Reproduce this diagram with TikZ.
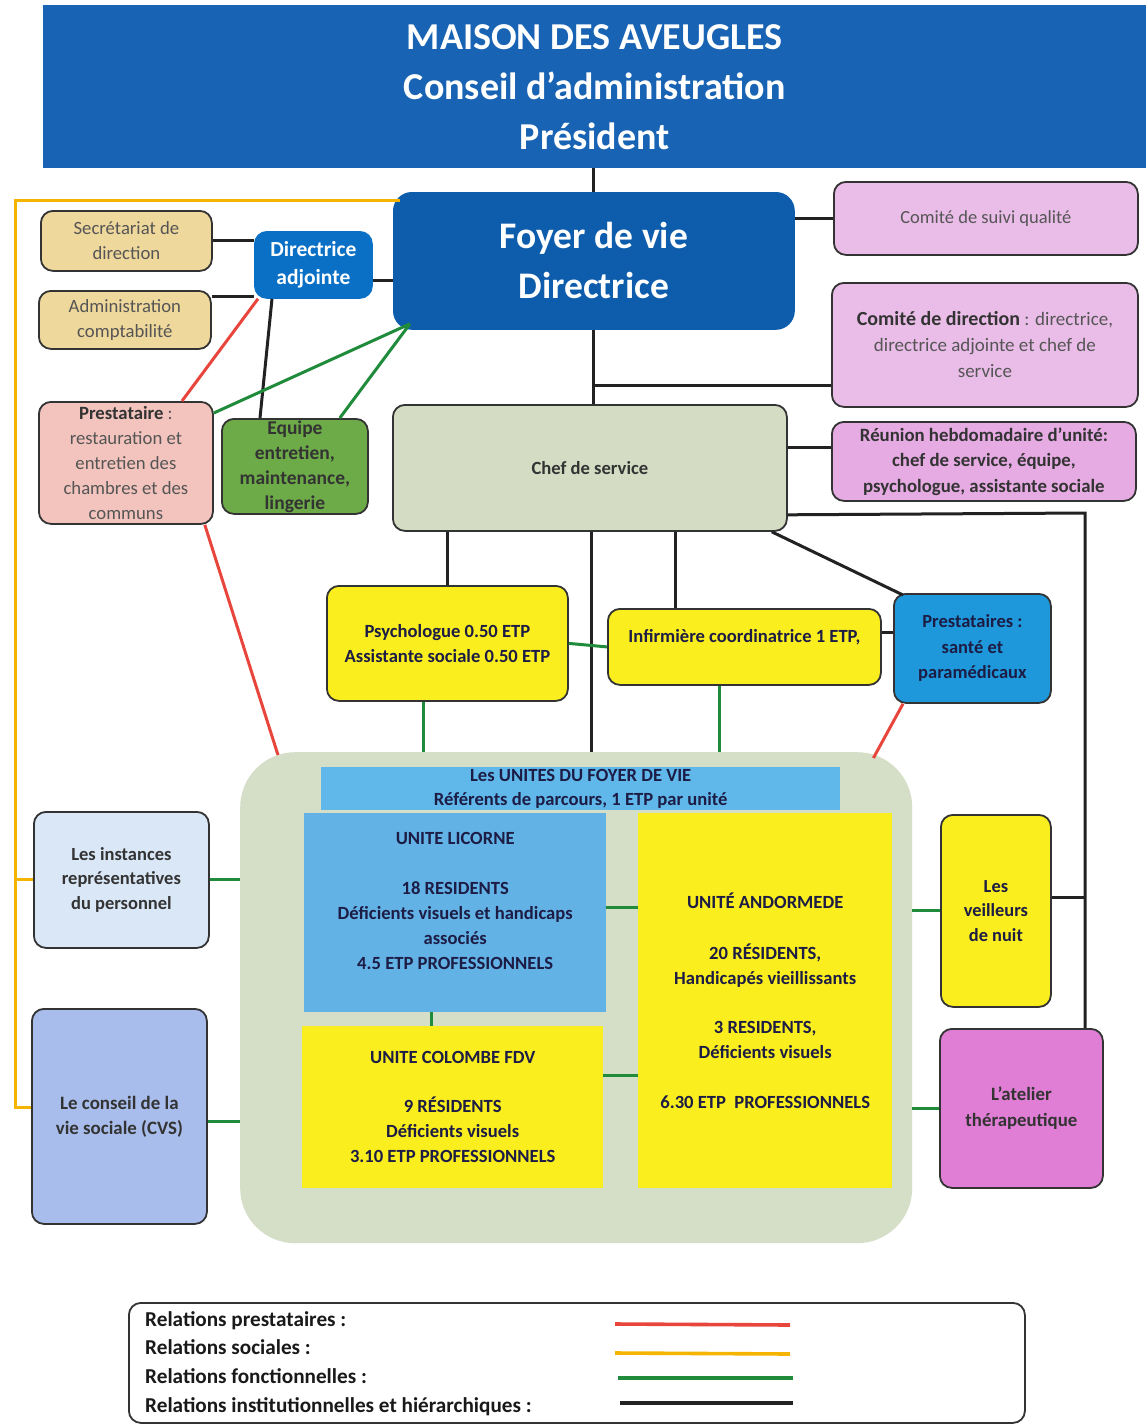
\documentclass[tikz,border=0pt]{standalone}
\usepackage{fontspec}
\setmainfont{Carlito}
\usetikzlibrary{calc}
\definecolor{bannerblue}{HTML}{1863B3}
\definecolor{foyerblue}{HTML}{0D5DAC}
\definecolor{adjblue}{HTML}{0A70C5}
\definecolor{goldfill}{HTML}{EFD89C}
\definecolor{prestfill}{HTML}{F2C4BD}
\definecolor{equipefill}{HTML}{6DAB48}
\definecolor{pinkA}{HTML}{EABDE8}
\definecolor{pinkB}{HTML}{E6ABE3}
\definecolor{cheffill}{HTML}{D4DDC4}
\definecolor{yel}{HTML}{FAEE1E}
\definecolor{psblue}{HTML}{1E98DA}
\definecolor{contfill}{HTML}{D5DEC7}
\definecolor{hdrblue}{HTML}{60B8EA}
\definecolor{licblue}{HTML}{63B2E6}
\definecolor{instfill}{HTML}{D9E7F7}
\definecolor{cvsfill}{HTML}{A8BDEB}
\definecolor{atelfill}{HTML}{E07ED6}
\definecolor{navy}{HTML}{1C1C45}
\definecolor{darkgray}{HTML}{333333}
\definecolor{midgray}{HTML}{555555}
\definecolor{redline}{HTML}{E8463C}
\definecolor{yelline}{HTML}{F5B400}
\definecolor{greenline}{HTML}{1F8B3B}
\definecolor{blackline}{HTML}{222222}
\newcommand{\fs}[2]{\fontsize{#1}{#2}\selectfont}
\begin{document}
\begin{tikzpicture}[x=1pt,y=-1pt,
  box/.style={draw=darkgray,line width=1.8pt,rounded corners=12pt,inner sep=0pt,align=center,anchor=north west},
  flat/.style={inner sep=0pt,align=center,anchor=north west},
  blk/.style={draw=blackline,line width=3pt},
  grn/.style={draw=greenline,line width=3pt},
  rd/.style={draw=redline,line width=3pt},
  yl/.style={draw=yelline,line width=3pt},
  legline/.style={line width=3.6pt}]
\useasboundingbox (0,0) rectangle (1146,1425);
\fill[white] (0,0) rectangle (1146,1425);

% container first
\node[flat,fill=contfill,rounded corners=55pt,minimum width=672pt,minimum height=491pt] (cont) at (240,752) {};

% banner
\node[flat,fill=bannerblue,minimum width=1103pt,minimum height=163pt,text=white,font=\bfseries\fs{38}{50}] (banner) at (43,5) {MAISON DES AVEUGLES\\Conseil d’administration\\Président};

\node[box,fill=foyerblue,draw=foyerblue,rounded corners=18pt,minimum width=400pt,minimum height=136pt,text=white,font=\bfseries\fs{37.5}{50}] (foyer) at (393,192) {Foyer de vie\\Directrice};

\node[box,fill=goldfill,minimum width=171pt,minimum height=60pt,text=midgray,font=\fs{18.7}{25}] (sec) at (40,210) {Secrétariat de\\direction};
\node[box,fill=goldfill,minimum width=172pt,minimum height=58pt,text=midgray,font=\fs{18.7}{25}] (admin) at (38,290) {Administration\\comptabilité};
\node[box,fill=adjblue,draw=adjblue,minimum width=117pt,minimum height=66pt,text=white,font=\bfseries\fs{21.5}{28}] (diradj) at (254,231) {Directrice\\adjointe};

\node[box,fill=prestfill,minimum width=174pt,minimum height=122pt,text=midgray,font=\fs{18.7}{25}] (prest) at (38,401) {\textbf{\color{darkgray}Prestataire} :\\restauration et\\entretien des\\chambres et des\\communs};
\node[box,fill=equipefill,minimum width=146pt,minimum height=95pt,text=darkgray,font=\bfseries\fs{19.5}{25}] (equipe) at (221,418) {Equipe\\entretien,\\maintenance,\\lingerie};

\node[box,fill=pinkA,minimum width=304pt,minimum height=73pt,text=midgray,font=\fs{18.5}{25}] (csq) at (833,181) {Comité de suivi qualité};
\node[box,fill=pinkA,minimum width=306pt,minimum height=124pt,text=midgray,font=\fs{19}{26}] (cdd) at (831,282) {\textbf{\color{darkgray}\fs{20}{26}Comité de direction} : directrice,\\directrice adjointe et chef de\\service};
\node[box,fill=cheffill,minimum width=394pt,minimum height=126pt,text=darkgray,font=\bfseries\fs{18.6}{25}] (chef) at (392,404) {Chef de service};
\node[box,fill=pinkB,minimum width=304pt,minimum height=79pt,text=darkgray,font=\bfseries\fs{18.8}{25.5}] (reu) at (831,421) {Réunion hebdomadaire d’unité:\\chef de service, équipe,\\psychologue, assistante sociale};

\node[box,fill=yel,minimum width=241pt,minimum height=115pt,text=navy,font=\bfseries\fs{18.6}{25}] (psy) at (326,585) {Psychologue 0.50 ETP\\Assistante sociale 0.50 ETP};
\node[box,fill=yel,minimum width=273pt,minimum height=76pt,text=navy,font=\bfseries\fs{18.6}{25}] (inf) at (607,608) {Infirmière coordinatrice 1 ETP,\\[-3pt]};
\node[box,fill=psblue,minimum width=157pt,minimum height=109pt,text=navy,font=\bfseries\fs{18.5}{25.5}] (ps) at (893,593) {Prestataires :\\santé et\\paramédicaux};

% units
\node[flat,fill=hdrblue,minimum width=519pt,minimum height=43pt,text=navy,font=\bfseries\fs{18.6}{24}] (hdr) at (321,767) {Les UNITES DU FOYER DE VIE\\Référents de parcours, 1 ETP par unité};
\node[flat,fill=licblue,minimum width=302pt,minimum height=199pt,text=navy,font=\bfseries\fs{18.6}{25}] (lic) at (304,813) {UNITE LICORNE\\[25pt]18 RESIDENTS\\Déficients visuels et handicaps\\associés\\4.5 ETP PROFESSIONNELS\\[-1pt]};
\node[flat,fill=yel,minimum width=301pt,minimum height=162pt,text=navy,font=\bfseries\fs{18.6}{25}] (col) at (302,1026) {UNITE COLOMBE FDV\\[24pt]9 RÉSIDENTS\\Déficients visuels\\3.10 ETP PROFESSIONNELS};
\node[flat,fill=yel,minimum width=254pt,minimum height=375pt,text=navy,font=\bfseries\fs{18.6}{25}] (and) at (638,813) {UNITÉ ANDORMEDE\\[26pt]20 RÉSIDENTS,\\Handicapés vieillissants\\[24pt]3 RESIDENTS,\\Déficients visuels\\[25pt]6.30 ETP\ \ PROFESSIONNELS};

\node[box,fill=instfill,minimum width=175pt,minimum height=136pt,text=darkgray,font=\bfseries\fs{18.5}{24.5}] (inst) at (33,811) {Les instances\\représentatives\\du personnel};
\node[box,fill=cvsfill,minimum width=175pt,minimum height=215pt,text=darkgray,font=\bfseries\fs{18.9}{25}] (cvs) at (31,1008) {Le conseil de la\\vie sociale (CVS)};
\node[box,fill=yel,minimum width=110pt,minimum height=192pt,text=navy,font=\bfseries\fs{18.4}{24.5}] (veil) at (940,814) {Les\\veilleurs\\de nuit};
\node[box,fill=atelfill,minimum width=163pt,minimum height=159pt,text=darkgray,font=\bfseries\fs{18.8}{26}] (atel) at (939,1028) {L’atelier\\thérapeutique};

% legend
\node[box,fill=white,minimum width=896pt,minimum height=120pt] (legend) at (128,1302) {};
\node[flat,align=left,text=black!90,font=\bfseries\fs{21.2}{28.7}] (legtext) at (145,1311) {Relations prestataires :\\Relations sociales :\\Relations fonctionnelles :\\Relations institutionnelles et hiérarchiques :};
\coordinate (l1a) at (615,1324); \coordinate (l1b) at (790,1325);
\coordinate (l2a) at (615,1353); \coordinate (l2b) at (790,1354);
\coordinate (l3a) at (618,1378); \coordinate (l3b) at (793,1378);
\coordinate (l4a) at (620,1403); \coordinate (l4b) at (793,1403);
\draw[rd,legline] (l1a) -- (l1b);
\draw[yl,legline] (l2a) -- (l2b);
\draw[grn,legline] (l3a) -- (l3b);
\draw[blk,legline] (l4a) -- (l4b);

% connectors: black
\draw[blk] (banner.south -| foyer.north) -- (foyer.north);
\draw[blk] (sec.east) -- (sec.east -| diradj.west);
\draw[blk] ([yshift=-6pt]admin.north east) coordinate (a1) -- (a1 -| diradj.west);
\draw[blk] ([yshift=-16pt]diradj.east) coordinate (a2) -- (a2 -| foyer.west);
\draw[blk] ([xshift=18pt]diradj.south west) -- ([xshift=39pt]equipe.north west);
\draw[blk] (csq.west -| foyer.east) -- (csq.west);
\draw[blk] (foyer.south) -- (foyer.south |- chef.north);
\draw[blk] ([yshift=22pt]cdd.south west) coordinate (a3) -- (a3 -| foyer.south);
\draw[blk] ([yshift=20pt]chef.east) coordinate (a4) -- (a4 -| reu.west);
\coordinate (rtop) at (1085,513);
\draw[blk] ([yshift=17pt]chef.south east) -- (rtop) -- (rtop |- atel.north);
\draw[blk] ([yshift=13pt]veil.east) coordinate (a5) -- (a5 -| rtop);
\draw[blk] (psy.north |- chef.south) -- (psy.north);
\draw[blk] ([xshift=2pt]chef.south) -- ([xshift=2pt]chef.south |- cont.north);
\draw[blk] ([xshift=68pt]inf.north west) coordinate (a6) -- (a6 |- chef.south);
\draw[blk] ([xshift=-16pt]chef.south east) -- ([xshift=10pt,yshift=-2pt]ps.north west);
\draw[blk] ([yshift=14pt]inf.east) coordinate (a7) -- (a7 -| ps.west);

% green
\draw[grn] ([yshift=-12pt]prest.north east) -- ([xshift=17pt,yshift=6pt]foyer.south west);
\draw[grn] ([xshift=-29pt]equipe.north east) -- ([xshift=17pt,yshift=6pt]foyer.south west);
\draw[grn] (psy.east) -- (inf.west);
\draw[grn] ([xshift=-23.5pt]psy.south) coordinate (g1) -- (g1 |- cont.north);
\draw[grn] ([xshift=-24.5pt]inf.south) coordinate (g2) -- (g2 |- cont.north);
\draw[grn] (inst.east) -- (inst.east -| cont.west);
\draw[grn] ([yshift=-5pt]cvs.east) coordinate (g3) -- (g3 -| cont.west);
\draw[grn] (veil.west -| cont.east) -- (veil.west);
\draw[grn] (atel.west -| cont.east) -- (atel.west);
\draw[grn] ([yshift=5pt]lic.east) coordinate (g4) -- (g4 -| and.west);
\draw[grn] ([yshift=32pt]col.east) coordinate (g5) -- (g5 -| and.west);
\draw[grn] ([xshift=-24pt]lic.south) coordinate (g6) -- (g6 |- col.north);

% red
\draw[rd] ([xshift=144pt]prest.north west) -- ([xshift=4pt]diradj.south west);
\draw[rd] ([xshift=-9pt]prest.south east) -- ($(cont.north west)+(38,3)$);
\draw[rd] ([xshift=10pt]ps.south west) -- ($(cont.north east)+(-39,6)$);

% yellow
\coordinate (ytop) at (15,200);
\coordinate (ybot) at (15,1107);
\draw[yl] ([xshift=7pt,yshift=-8pt]foyer.north west) -- (ytop) -- (ybot) -- (ybot -| cvs.west);
\draw[yl] (ytop |- inst.west) -- (inst.west);
\end{tikzpicture}
\end{document}
